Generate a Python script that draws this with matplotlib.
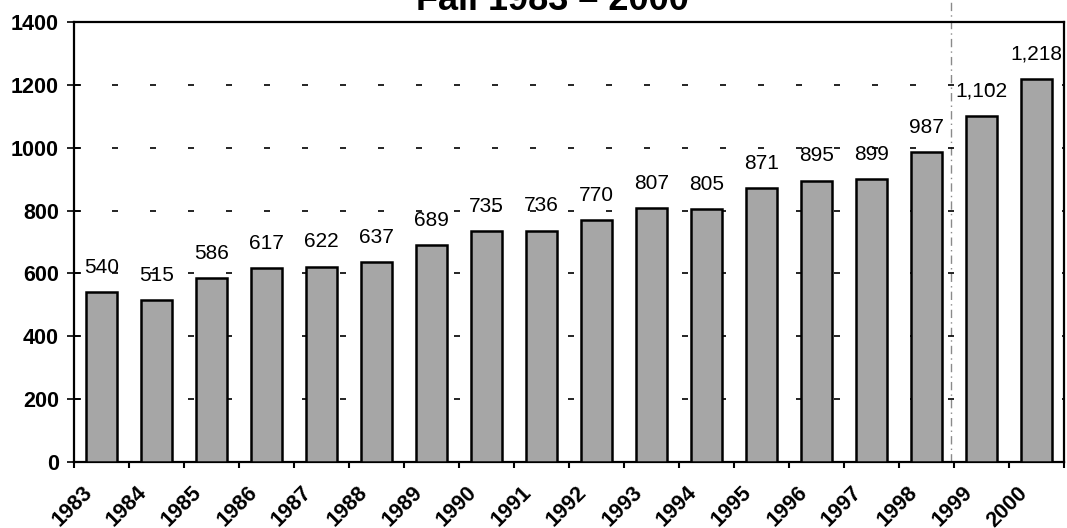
import matplotlib
matplotlib.use("Agg")
import matplotlib.pyplot as plt
from matplotlib.lines import Line2D

plt.rcParams['font.family'] = ['Liberation Sans', 'DejaVu Sans']

years = ['1983', '1984', '1985', '1986', '1987', '1988', '1989', '1990', '1991',
         '1992', '1993', '1994', '1995', '1996', '1997', '1998', '1999', '2000']
enrollment = [540, 515, 586, 617, 622, 637, 689, 735, 736,
              770, 807, 805, 871, 895, 899, 987, 1102, 1218]
y_ticks = [0, 200, 400, 600, 800, 1000, 1200, 1400]

W, H = 1067, 528
fig = plt.figure(figsize=(W / 100, H / 100), dpi=100)
ax = fig.add_axes([74 / W, 1 - 462 / H, (1064 - 74) / W, (462 - 22) / H])
ax.patch.set_visible(False)

x = list(range(len(years)))
ax.bar(x, enrollment, width=0.58, color='#a6a6a6', edgecolor='black',
       linewidth=1.8, zorder=3)

for xi, v in zip(x, enrollment):
    ax.annotate(f"{v:,}", (xi, v), xytext=(0, 11), textcoords='offset points',
                ha='center', va='bottom', fontsize=15, zorder=4)

ax.set_xlim(-0.5, len(years) - 0.5)
ax.set_ylim(0, 1400)
ax.set_yticks(y_ticks)
ax.set_yticklabels([str(t) for t in y_ticks], fontsize=15.5, fontweight='bold')

# tick marks at category boundaries
ax.set_xticks([i - 0.5 for i in range(len(years) + 1)])
ax.set_xticklabels([])
ax.tick_params(axis='x', direction='out', length=4.5, width=1.5)
ax.tick_params(axis='y', direction='inout', length=9.5, width=1.2, pad=6)

# slanted year labels under each bar
for xi, yr in zip(x, years):
    ax.annotate(yr, (xi, 0), xytext=(-9, -20), textcoords='offset points',
                rotation=45, ha='right', va='center', rotation_mode='anchor',
                fontsize=15.5, fontweight='bold', annotation_clip=False)

for s in ax.spines.values():
    s.set_linewidth(1.6)

for t in y_ticks[1:-1]:
    ax.axhline(t, color='black', lw=1.2, linestyle=(0, (3.6, 19.2)), zorder=1)

# thin dash-dot rule running down the page between the last bars
fig.add_artist(Line2D([951 / W, 951 / W], [1 - 462 / H, 1.0], color='#8a8a8a',
                      lw=1.0, linestyle=(0, (6, 3, 1, 3)), transform=fig.transFigure,
                      zorder=-1))

fig.text(552 / W, 1 - 10 / H, 'Fall 1983 – 2000', ha='center', va='baseline',
         fontsize=26, fontweight='bold')

fig.savefig('out.png', dpi=100)
